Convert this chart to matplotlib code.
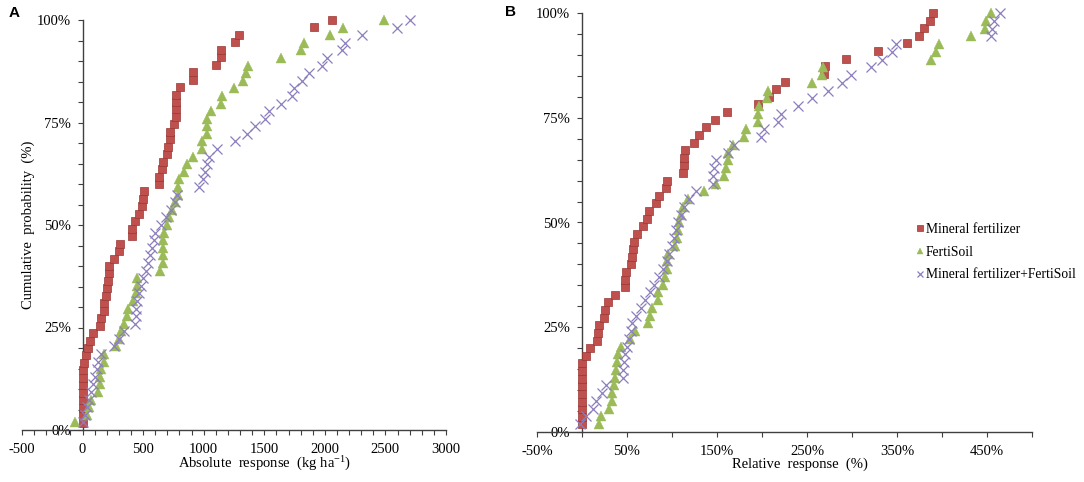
import numpy as np
import matplotlib
matplotlib.use("Agg")
import matplotlib.pyplot as plt
from matplotlib.ticker import FixedLocator

plt.rcParams['font.family'] = ['Liberation Serif', 'DejaVu Serif']
plt.rcParams['mathtext.default'] = 'regular'

# ---------------- data (sorted responses; cumulative probability = rank / n) ----------------
series_names = ["Mineral fertilizer", "FertiSoil", "Mineral fertilizer+FertiSoil"]

# Panel A: absolute response (kg ha-1)
abs_mineral = [0, 0, 2, 3, 3, 5, 5, 6, 8, 25, 44, 60, 88, 143, 154, 176, 178, 190, 204, 206,
               217, 220, 258, 300, 305, 405, 410, 435, 465, 492, 500, 506, 630, 632, 658, 665,
               699, 707, 720, 724, 753, 768, 770, 772, 775, 808, 913, 915, 1103, 1144, 1146,
               1260, 1290, 1910, 2063]
abs_fertisoil = [-66, 33, 50, 66, 126, 140, 140, 148, 173, 175, 272, 300, 318, 341, 363, 377,
                 415, 443, 451, 452, 638, 665, 665, 665, 667, 670, 693, 715, 739, 767, 786, 788,
                 800, 836, 860, 910, 982, 985, 1023, 1024, 1026, 1064, 1139, 1152, 1254, 1323,
                 1345, 1364, 1640, 1800, 1826, 2046, 2150, 2486]
abs_combined = [5, 20, 40, 55, 70, 85, 100, 115, 130, 150, 260, 300, 340, 430, 440, 445, 450,
                465, 480, 500, 520, 540, 560, 575, 590, 600, 650, 685, 730, 760, 777, 960, 990,
                1010, 1025, 1040, 1111, 1262, 1358, 1423, 1510, 1540, 1634, 1730, 1743, 1813,
                1867, 1977, 2018, 2142, 2170, 2307, 2596, 2706]

# Panel B: relative response (%)
rel_mineral = [0, 0, 0, 0, 0, 0, 0, 0, 0, 3.9, 9, 17, 17.5, 19.4, 24.5, 25, 28.7, 37, 48, 48,
               48.5, 54, 55, 57, 58, 61, 67.5, 72, 74, 81.7, 85, 93, 94, 112, 113, 113.5, 114,
               124, 130.5, 138, 148, 161, 195, 207.5, 216, 226, 269, 270, 293.5, 329, 361, 374,
               380.5, 387, 390]
rel_fertisoil = [19, 21, 30, 33, 33.5, 35, 37, 38, 38.5, 40, 43.5, 53.5, 59, 73, 76, 78, 84, 84,
                 90, 92, 94, 94.5, 95, 103, 105.5, 106.4, 107.5, 110, 112, 117.6, 136, 149, 158,
                 159.5, 161.7, 162, 167.6, 180, 182.4, 196, 196, 196.5, 206, 207, 256, 267, 268,
                 388, 393, 397, 432, 448, 449, 454]
rel_combined = [-2, 4, 12, 16, 22, 27, 45, 46, 47, 48, 50, 52, 54, 56, 60, 66, 70, 76, 80, 85,
                90, 94, 97, 100, 102, 104, 107, 110, 113, 119, 127, 145, 146, 147, 149, 162, 169,
                199, 202, 218, 221, 240, 255, 273, 289, 299, 321, 333, 344, 349, 454, 455, 458,
                464]

y_ticks = [0, 25, 50, 75, 100]
y_ticklabels = ["0%", "25%", "50%", "75%", "100%"]
a_xticks = [-500, 0, 500, 1000, 1500, 2000, 2500, 3000]
b_xticks = [-50, 50, 150, 250, 350, 450]
b_xticklabels = ["-50%", "50%", "150%", "250%", "350%", "450%"]

# ---------------- styling ----------------
RED, RED_EDGE = "#C0504D", "#9A3734"
GREEN = "#9BBB59"
PURPLE = "#8C7DBE"
AXC = "#404040"

W, H = 1084, 482
fig = plt.figure(figsize=(W / 100, H / 100), dpi=100)
axA = fig.add_axes([22 / W, 52 / H, 424 / W, 410 / H])
axB = fig.add_axes([537 / W, 50 / H, 495 / W, 419 / H])


def cum(vals):
    n = len(vals)
    return np.arange(1, n + 1) / n * 100.0


def draw(ax, m, f, c):
    ax.plot(m, cum(m), ls="none", marker="s", ms=5.8, mfc=RED, mec=RED_EDGE, mew=0.5,
            clip_on=False, zorder=3, label=series_names[0])
    ax.plot(f, cum(f), ls="none", marker="^", ms=6.5, mfc=GREEN, mec=GREEN, mew=0.3,
            clip_on=False, zorder=4, label=series_names[1])
    ax.plot(c, cum(c), ls="none", marker="x", ms=6.5, mec=PURPLE, mew=0.9,
            clip_on=False, zorder=5, label=series_names[2])


def style(ax):
    ax.set_ylim(0, 100)
    for s in ["top", "right"]:
        ax.spines[s].set_visible(False)
    ax.spines["left"].set_position(("data", 0))
    for s in ["left", "bottom"]:
        ax.spines[s].set_color(AXC)
        ax.spines[s].set_linewidth(1.0)
    ax.yaxis.set_major_locator(FixedLocator(y_ticks))
    ax.set_yticklabels(y_ticklabels)
    ax.yaxis.set_minor_locator(FixedLocator(np.arange(0, 101, 5)))
    ax.tick_params(axis="both", which="both", direction="out", length=3.5, width=0.8,
                   color=AXC, labelsize=10.5)
    ax.tick_params(axis="y", which="both", pad=5)
    ax.tick_params(axis="x", which="both", pad=6)
    ax.patch.set_alpha(0)


draw(axA, abs_mineral, abs_fertisoil, abs_combined)
axA.set_xlim(-500, 3000)
style(axA)
axA.xaxis.set_major_locator(FixedLocator(a_xticks))
axA.set_xticklabels([str(v) for v in a_xticks])
axA.xaxis.set_minor_locator(FixedLocator(np.arange(-500, 3001, 100)))

draw(axB, rel_mineral, rel_fertisoil, rel_combined)
axB.set_xlim(-50, 500)
style(axB)
axB.xaxis.set_major_locator(FixedLocator(b_xticks))
axB.set_xticklabels(b_xticklabels)
axB.xaxis.set_minor_locator(FixedLocator(np.arange(0, 501, 100)))

# labels
fig.text(28 / W, 1 - 225 / H, "Cumulative  probability  (%)", rotation=90,
         ha="center", va="center", fontsize=10.5)
fig.text(265 / W, 1 - 464 / H, r"Absolute  response  (kg ha$^{-1}$)",
         ha="center", va="center", fontsize=10.5)
fig.text(800 / W, 1 - 464 / H, "Relative  response  (%)",
         ha="center", va="center", fontsize=10.5)
fig.text(14 / W, 1 - 13 / H, "A", ha="center", va="center", fontsize=11,
         fontweight="bold", family="Liberation Sans")
fig.text(511 / W, 1 - 12 / H, "B", ha="center", va="center", fontsize=11,
         fontweight="bold", family="Liberation Sans")

handles, labels = axB.get_legend_handles_labels()
leg = fig.legend(handles, labels, loc="upper left", bbox_to_anchor=(909 / W, 1 - 216 / H),
                 frameon=False, fontsize=9.8, handlelength=0.6, handletextpad=0.15,
                 borderpad=0, labelspacing=0.72, markerscale=0.75)

fig.savefig("out.png", dpi=100)
